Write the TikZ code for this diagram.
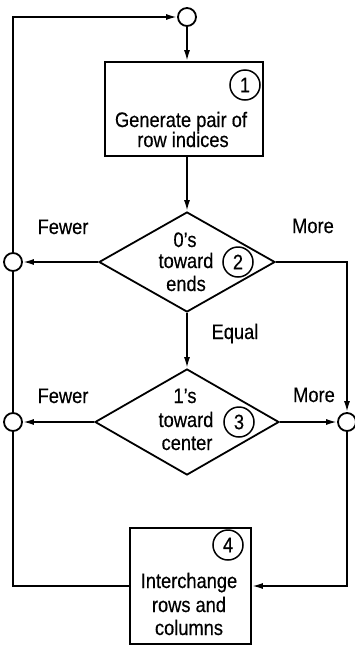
\documentclass[tikz,border=0pt]{standalone}
\usepackage{fontspec}
\setmainfont{Liberation Sans}[FakeStretch=0.87,FakeBold=0.4]
\usetikzlibrary{arrows.meta,shapes.geometric}

\begin{document}
\begin{tikzpicture}[x=1pt,y=-1pt,
  line width=1.8pt,
  every node/.style={font=\fontsize{21}{24}\selectfont, inner sep=0pt},
  procbox/.style={draw, rectangle, inner sep=0pt},
  decision/.style={draw, diamond, inner sep=0pt},
  junction/.style={draw, circle, minimum size=18pt, inner sep=0pt},
  tag/.style={draw, circle, minimum size=30pt, inner sep=0pt, line width=1.5pt},
  txt/.style={anchor=base},
  flow/.style={-{Latex[length=11pt,width=6pt]}}]

\useasboundingbox (0,0) rectangle (354,646);

% junction points
\node[junction] (tc)  at (187,17)  {};
\node[junction] (lc1) at (13,262)  {};
\node[junction] (lc2) at (13,422)  {};
\node[junction] (rc)  at (347,422) {};

% step 1
\node[procbox, minimum width=158pt, minimum height=94pt] (b1) at (184,109) {};
\node[tag] (n1) at (245,85) {1};
\node[txt] (b1a) at (181,127) {Generate pair of};
\node[txt] (b1b) at (183,147) {row indices};

% step 2
\node[decision, minimum width=176pt, minimum height=100pt] (d2) at (187,262) {};
\node[tag] (n2) at (238,262) {2};
\node[txt] (d2a) at (185,247) {0's};
\node[txt] (d2b) at (186,268) {toward};
\node[txt] (d2c) at (186,291) {ends};

% step 3
\node[decision, minimum width=184pt, minimum height=106pt] (d3) at (187,422) {};
\node[tag] (n3) at (239,422) {3};
\node[txt] (d3a) at (185,403) {1's};
\node[txt] (d3b) at (186,427) {toward};
\node[txt] (d3c) at (187,450) {center};

% step 4
\node[procbox, minimum width=121pt, minimum height=116pt] (b4) at (190.5,586) {};
\node[tag] (n4) at (228,545) {4};
\node[txt] (b4a) at (189,588) {Interchange};
\node[txt] (b4b) at (189,612) {rows and};
\node[txt] (b4c) at (189,635) {columns};

% branch labels
\node[txt] (f1) at (63,234) {Fewer};
\node[txt] (f2) at (63,403) {Fewer};
\node[txt] (m1) at (313,233) {More};
\node[txt] (m2) at (314,402) {More};
\node[txt] (eq) at (235,339) {Equal};

% connectors
\draw[flow] (tc.south) -- (tc.south |- b1.north);
\draw[flow] (b1.south -| d2.north) -- (d2.north);
\draw[flow] (d2.south) -- (d3.north);
\draw[flow] (d2.west) -- (lc1.east);
\draw[flow] (d3.west) -- (lc2.east);
\draw[flow] (d3.east) -- (rc.west);
\draw[flow] (d2.east) -| (rc.north);
\draw[flow] (rc.south) |- (b4.east);
\draw (b4.west) -| (lc2.south);
\draw (lc2.north) -- (lc1.south);
\draw[flow] (lc1.north) |- (tc.west);
\end{tikzpicture}
\end{document}
